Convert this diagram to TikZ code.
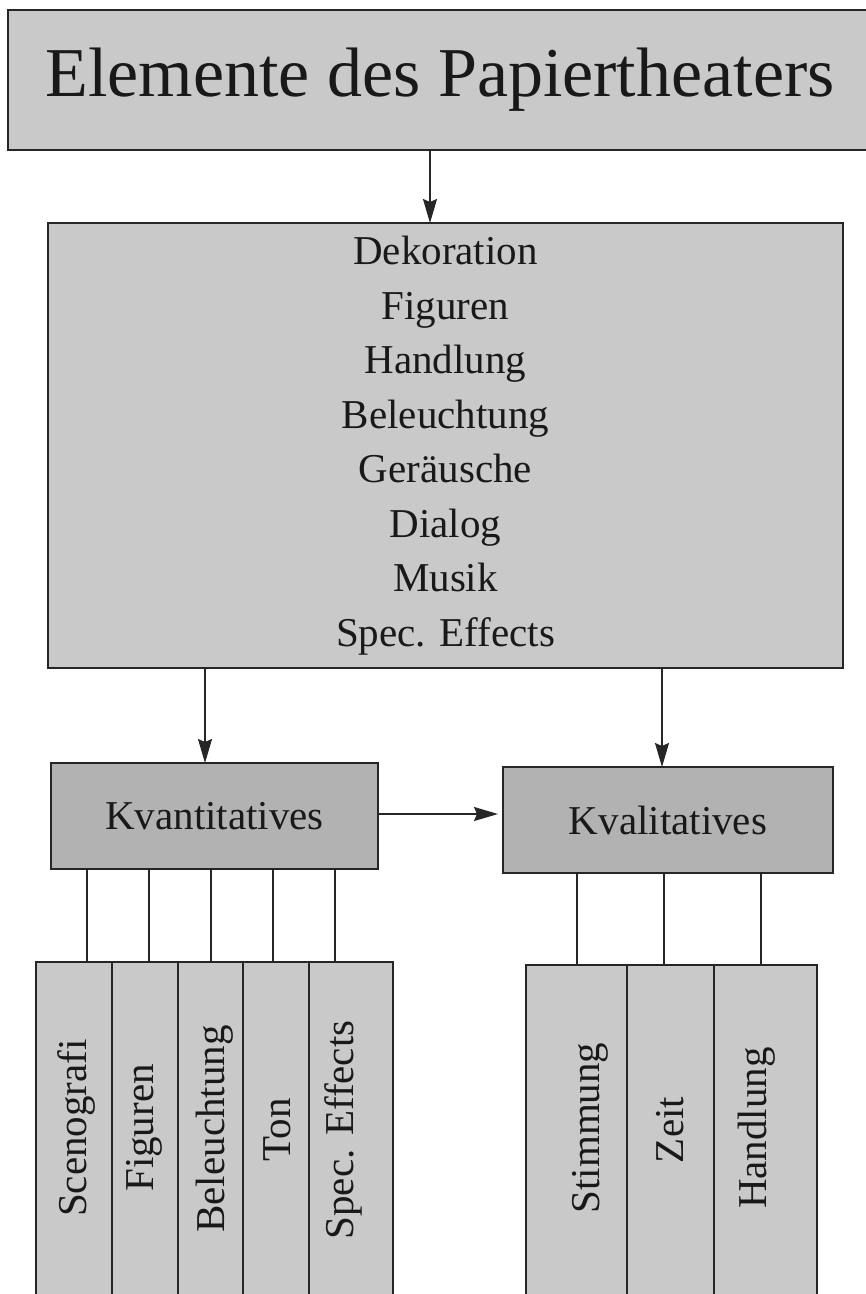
\documentclass[tikz,border=0pt]{standalone}
\usepackage{fontspec}
\setmainfont{Liberation Serif}
\usetikzlibrary{arrows.meta}
\begin{document}
\begin{tikzpicture}[x=1pt,y=-1pt,
  box/.style={draw=black!85, line width=1.7pt, fill=black!21, inner sep=0pt, outer sep=0pt},
  darkbox/.style={box, fill=black!30},
  col/.style={draw=black!85, line width=1.4pt, fill=black!21, inner sep=0pt, outer sep=0pt},
  lab/.style={font=\fontsize{41}{48}\selectfont, text=black!90},
  vlab/.style={lab, rotate=90, inner sep=0pt, anchor=center},
  arr/.style={line width=1.5pt, draw=black!85, -{Stealth[length=24pt,width=14pt,inset=3pt]}},
  conn/.style={line width=1.4pt, draw=black!85}
]
\useasboundingbox (0,0) rectangle (866,1294);
\clip (0,0) rectangle (866,1294);

% boxes
\node[box, minimum width=864pt, minimum height=140pt,
      font=\fontsize{70}{78}\selectfont, text=black!90] (title) at (440,80) {Elemente des Papiertheaters};
\node[box, minimum width=795pt, minimum height=445pt, align=center,
      font=\fontsize{41}{54.5}\selectfont, text=black!90] (main) at (445.5,445.5)
  {Dekoration\\Figuren\\Handlung\\Beleuchtung\\Geräusche\\Dialog\\Musik\\Spec. Effects};
\node[darkbox, minimum width=327pt, minimum height=106pt, lab] (kvant) at (214.5,816) {Kvantitatives};
\node[darkbox, minimum width=330pt, minimum height=106pt, lab] (kval) at (668,820) {Kvalitatives};

% bottom columns (left group)
\node[col, minimum width=76pt, minimum height=348pt] (c1) at (74,1136) {};
\node[col, minimum width=66pt, minimum height=348pt] (c2) at (145,1136) {};
\node[col, minimum width=65pt, minimum height=348pt] (c3) at (210.5,1136) {};
\node[col, minimum width=66pt, minimum height=348pt] (c4) at (276,1136) {};
\node[col, minimum width=84pt, minimum height=348pt] (c5) at (351,1136) {};
% bottom columns (right group)
\node[col, minimum width=101pt, minimum height=345pt] (r1) at (576.5,1137.5) {};
\node[col, minimum width=87pt, minimum height=345pt] (r2) at (670.5,1137.5) {};
\node[col, minimum width=103pt, minimum height=345pt] (r3) at (765.5,1137.5) {};

% rotated labels
\node[vlab] (t1) at (76,1128) {Scenografi};
\node[vlab] (t2) at (144,1128) {Figuren};
\node[vlab] (t3) at (215,1129) {Beleuchtung};
\node[vlab] (t4) at (277,1130) {Ton};
\node[vlab] (t5) at (343,1130) {Spec. Effects};
\node[vlab] (u1) at (590,1128) {Stimmung};
\node[vlab] (u2) at (670,1130) {Zeit};
\node[vlab] (u3) at (757,1128) {Handlung};

% helper coordinates
\coordinate (a0) at (430,0);
\coordinate (a1) at (205,0);
\coordinate (a2) at (662,0);
\coordinate (a3) at (0,814);
\coordinate (q1) at (87,0);
\coordinate (q2) at (149,0);
\coordinate (q3) at (211,0);
\coordinate (q4) at (273,0);
\coordinate (q5) at (335,0);
\coordinate (p1) at (577,0);
\coordinate (p2) at (664,0);
\coordinate (p3) at (761,0);

% arrows
\draw[arr] (title.south -| a0) -- (main.north -| a0);
\draw[arr] (main.south -| a1) -- (kvant.north -| a1);
\draw[arr] (main.south -| a2) -- (kval.north -| a2);
\draw[arr, shorten >=5pt] (kvant.east |- a3) -- (kval.west |- a3);

% connectors
\draw[conn] (kvant.south -| q1) -- (c1.north -| q1);
\draw[conn] (kvant.south -| q2) -- (c2.north -| q2);
\draw[conn] (kvant.south -| q3) -- (c3.north -| q3);
\draw[conn] (kvant.south -| q4) -- (c4.north -| q4);
\draw[conn] (kvant.south -| q5) -- (c5.north -| q5);
\draw[conn] (kval.south -| p1) -- (r1.north -| p1);
\draw[conn] (kval.south -| p2) -- (r2.north -| p2);
\draw[conn] (kval.south -| p3) -- (r3.north -| p3);
\end{tikzpicture}
\end{document}
